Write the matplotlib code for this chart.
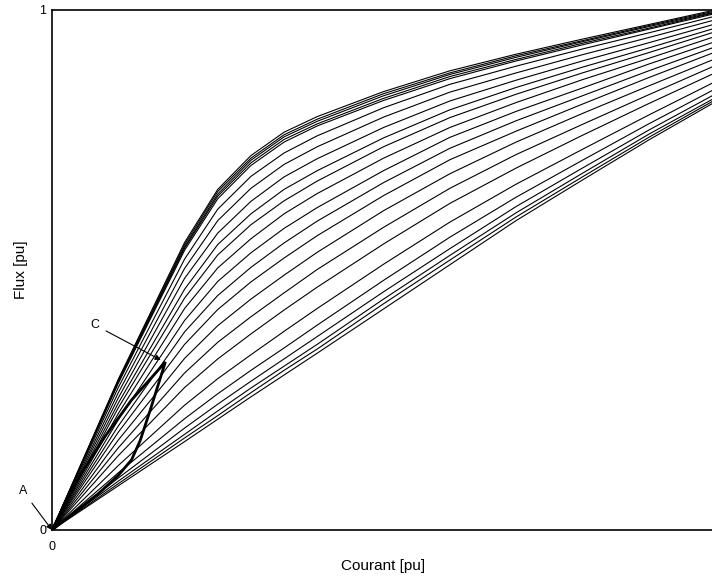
import numpy as np
import matplotlib
matplotlib.use('Agg')
import matplotlib.pyplot as plt

# current samples (x) shared by all curves
courant = [0, 0.1, 0.2, 0.25, 0.3, 0.35, 0.4, 0.5, 0.6, 0.7, 0.8, 0.9, 1.0]

# flux of each curve, top to bottom
flux_curves = [
    [0, 0.290, 0.553, 0.655, 0.720, 0.765, 0.795, 0.843, 0.883, 0.915, 0.944, 0.972, 1.000],
    [0, 0.288, 0.549, 0.651, 0.715, 0.760, 0.790, 0.839, 0.879, 0.912, 0.941, 0.970, 0.998],
    [0, 0.286, 0.545, 0.646, 0.711, 0.756, 0.786, 0.835, 0.876, 0.909, 0.939, 0.968, 0.996],
    [0, 0.284, 0.542, 0.642, 0.706, 0.751, 0.781, 0.830, 0.872, 0.905, 0.936, 0.965, 0.995],
    [0, 0.282, 0.538, 0.637, 0.701, 0.746, 0.777, 0.826, 0.868, 0.902, 0.933, 0.963, 0.993],
    [0, 0.274, 0.521, 0.617, 0.680, 0.725, 0.758, 0.812, 0.857, 0.892, 0.925, 0.956, 0.988],
    [0, 0.264, 0.503, 0.595, 0.657, 0.703, 0.737, 0.794, 0.842, 0.879, 0.914, 0.947, 0.981],
    [0, 0.254, 0.484, 0.571, 0.632, 0.679, 0.714, 0.774, 0.825, 0.865, 0.902, 0.937, 0.973],
    [0, 0.244, 0.463, 0.549, 0.608, 0.655, 0.691, 0.754, 0.808, 0.851, 0.890, 0.927, 0.965],
    [0, 0.235, 0.446, 0.529, 0.587, 0.633, 0.671, 0.737, 0.793, 0.838, 0.879, 0.918, 0.958],
    [0, 0.224, 0.426, 0.504, 0.560, 0.608, 0.647, 0.715, 0.774, 0.822, 0.866, 0.907, 0.949],
    [0, 0.212, 0.403, 0.478, 0.533, 0.580, 0.620, 0.691, 0.755, 0.805, 0.850, 0.896, 0.939],
    [0, 0.200, 0.381, 0.451, 0.505, 0.552, 0.594, 0.668, 0.734, 0.787, 0.835, 0.883, 0.929],
    [0, 0.188, 0.357, 0.424, 0.477, 0.523, 0.566, 0.643, 0.712, 0.767, 0.819, 0.870, 0.919],
    [0, 0.173, 0.330, 0.393, 0.444, 0.490, 0.534, 0.614, 0.685, 0.746, 0.801, 0.854, 0.906],
    [0, 0.158, 0.302, 0.361, 0.410, 0.456, 0.501, 0.582, 0.657, 0.722, 0.780, 0.837, 0.893],
    [0, 0.143, 0.274, 0.329, 0.377, 0.423, 0.467, 0.550, 0.628, 0.696, 0.759, 0.820, 0.879],
    [0, 0.124, 0.240, 0.291, 0.337, 0.382, 0.426, 0.511, 0.592, 0.665, 0.732, 0.798, 0.862],
    [0, 0.110, 0.214, 0.262, 0.307, 0.350, 0.394, 0.480, 0.563, 0.640, 0.711, 0.781, 0.848],
    [0, 0.100, 0.196, 0.242, 0.286, 0.329, 0.372, 0.458, 0.541, 0.622, 0.696, 0.769, 0.838],
    [0, 0.094, 0.184, 0.229, 0.273, 0.315, 0.357, 0.444, 0.528, 0.610, 0.686, 0.761, 0.831],
    [0, 0.089, 0.177, 0.220, 0.264, 0.307, 0.348, 0.435, 0.519, 0.602, 0.679, 0.755, 0.827],
    [0, 0.085, 0.170, 0.213, 0.256, 0.298, 0.340, 0.425, 0.510, 0.595, 0.673, 0.750, 0.823],
]

# minor loop (bold), from A up to C and back
loop_x = [0, 0.04, 0.08, 0.12, 0.171, 0.148, 0.133, 0.12, 0.10, 0.07, 0]
loop_y = [0, 0.10, 0.18, 0.25, 0.323, 0.23, 0.172, 0.135, 0.105, 0.07, 0]

point_A = (0.0, 0.0)
point_C = (0.164, 0.327)

plt.rcParams['font.family'] = ['Liberation Sans', 'DejaVu Sans']

fig = plt.figure(figsize=(7.12, 5.8), dpi=100)
ax = fig.add_axes([52/712., 50/580., 663/712., 520/580.])

for fl in flux_curves:
	ax.plot(courant, fl, color='black', linewidth=0.8)

ax.plot(loop_x, loop_y, color='black', linewidth=2.0, solid_joinstyle='miter')

arrow = dict(arrowstyle='-|>', color='black', linewidth=0.8, mutation_scale=8, shrinkA=3, shrinkB=0)
ax.annotate('A', xy=point_A, xytext=(-0.044, 0.075), fontsize=9, ha='center', va='center',
	arrowprops=arrow, annotation_clip=False)
ax.annotate('C', xy=point_C, xytext=(0.065, 0.394), fontsize=9, ha='center', va='center',
	arrowprops=arrow, annotation_clip=False)

ax.set_xlim(0, 1)
ax.set_ylim(0, 1)
ax.set_xticks([0, 1])
ax.set_yticks([0, 1])
ax.tick_params(length=0, labelsize=9)
ax.tick_params(axis='x', pad=8)
ax.tick_params(axis='y', pad=4)
ax.spines['right'].set_visible(False)
for s in ['left', 'bottom', 'top']:
	ax.spines[s].set_linewidth(1.2)

ax.set_xlabel('Courant [pu]', fontsize=11, labelpad=4)
ax.set_ylabel('Flux [pu]', fontsize=11, labelpad=8)

plt.savefig('out.png', dpi=100)
